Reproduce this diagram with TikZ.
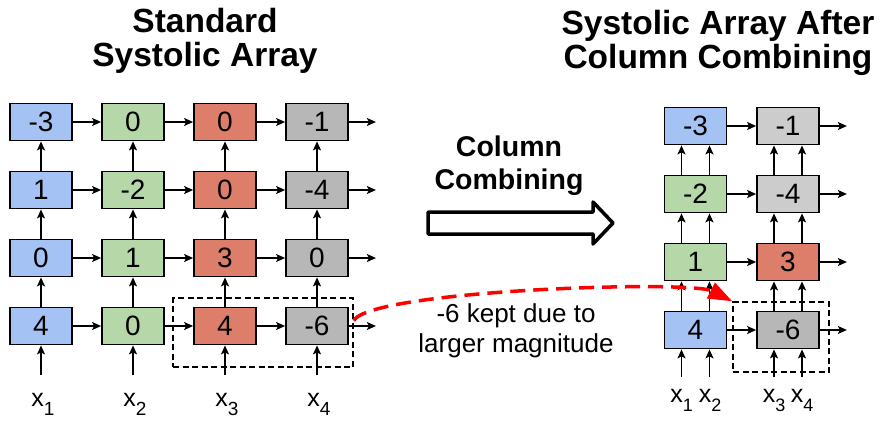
\documentclass[tikz,border=0pt]{standalone}
\usepackage{fontspec}
\setmainfont{Liberation Sans}
\usetikzlibrary{arrows.meta}

\definecolor{peblue}{HTML}{A4C2F4}
\definecolor{pegreen}{HTML}{B6D7A8}
\definecolor{pered}{HTML}{DD7E6B}
\definecolor{pegray}{HTML}{B7B7B7}
\definecolor{pelight}{HTML}{CCCCCC}

\newcommand{\xsub}[2]{x\raisebox{-9pt}{\fontsize{#2}{#2}\selectfont #1}}

\tikzset{
  pe/.style={draw, line width=1.8pt, minimum width=62pt, minimum height=37pt, inner sep=0pt, font=\fontsize{28}{28}\selectfont},
  flow/.style={-{Stealth[length=9pt,width=8pt,inset=2pt]}, line width=1.4pt},
  grpbox/.style={draw, dash pattern=on 6pt off 3.5pt, line width=1.4pt, inner sep=0pt},
  lbl/.style={anchor=base, inner sep=0pt, font=\fontsize{25}{25}\selectfont},
  title/.style={align=center, font=\fontsize{33.5}{33.5}\selectfont\bfseries}
}

\begin{document}
\begin{tikzpicture}[x=1pt,y=-1pt]
  \useasboundingbox (0,0) rectangle (885,420);

  % standard array
  \node[pe, fill=peblue]  (s11) at (41,122) {-3};
  \node[pe, fill=pegreen] (s21) at (133,122) {0};
  \node[pe, fill=pered]   (s31) at (225,122) {0};
  \node[pe, fill=pegray]  (s41) at (317,122) {-1};
  \node[pe, fill=peblue]  (s12) at (41,190) {1};
  \node[pe, fill=pegreen] (s22) at (133,190) {-2};
  \node[pe, fill=pered]   (s32) at (225,190) {0};
  \node[pe, fill=pegray]  (s42) at (317,190) {-4};
  \node[pe, fill=peblue]  (s13) at (41,258) {0};
  \node[pe, fill=pegreen] (s23) at (133,258) {1};
  \node[pe, fill=pered]   (s33) at (225,258) {3};
  \node[pe, fill=pegray]  (s43) at (317,258) {0};
  \node[pe, fill=peblue]  (s14) at (41,326) {4};
  \node[pe, fill=pegreen] (s24) at (133,326) {0};
  \node[pe, fill=pered]   (s34) at (225,326) {4};
  \node[pe, fill=pegray]  (s44) at (317,326) {-6};

  \foreach \r in {1,...,4} {
    \foreach \a/\b in {1/2,2/3,3/4}
      \draw[flow] (s\a\r) -- (s\b\r);
    \coordinate (sout\r) at ([xshift=27pt]s4\r.east);
    \draw[flow] (s4\r.east) -- (sout\r);
  }
  \foreach \c/\x in {1/41,2/133,3/225,4/317} {
    \foreach \a/\b in {4/3,3/2,2/1}
      \draw[flow] (s\c\a) -- (s\c\b);
    \coordinate (sin\c) at (\x,375);
    \draw[flow] (sin\c) -- (s\c4);
    \node[lbl] (sx\c) at (\x+2,406) {\xsub{\c}{19}};
  }

  \node[grpbox, minimum width=180pt, minimum height=69pt] (lgrp) at (263,332.5) {};

  \node[title] (ltitle) at (205,41) {Standard\\Systolic Array};

  % combined array
  \node[pe, fill=peblue]  (c11) at (695.5,126) {-3};
  \node[pe, fill=pelight] (c21) at (788,126) {-1};
  \node[pe, fill=pegreen] (c12) at (695.5,194) {-2};
  \node[pe, fill=pelight] (c22) at (788,194) {-4};
  \node[pe, fill=pegreen] (c13) at (695.5,262) {1};
  \node[pe, fill=pered]   (c23) at (788,262) {3};
  \node[pe, fill=peblue]  (c14) at (695.5,330) {4};
  \node[pe, fill=pegray]  (c24) at (788,330) {-6};

  \foreach \r in {1,...,4} {
    \draw[flow] (c1\r) -- (c2\r);
    \coordinate (cout\r) at ([xshift=27pt]c2\r.east);
    \draw[flow] (c2\r.east) -- (cout\r);
  }
  \foreach \c in {1,2}
    \foreach \k/\d in {a/-14,b/14} {
      \foreach \a/\b in {4/3,3/2,2/1}
        \draw[flow] ([xshift=\d pt]c\c\a.north) -- ([xshift=\d pt]c\c\b.south);
      \coordinate (cin\c\k) at ([xshift=\d pt,yshift=-28pt]c\c4.south);
      \draw[flow] (cin\c\k) -- ([xshift=\d pt]c\c4.south);
    }

  \node[lbl] (cx1) at (681.5,402) {\xsub{1}{18}};
  \node[lbl] (cx2) at (710,402) {\xsub{2}{18}};
  \node[lbl] (cx3) at (774,402) {\xsub{3}{18}};
  \node[lbl] (cx4) at (802,402) {\xsub{4}{18}};

  \node[grpbox, minimum width=96pt, minimum height=70pt] (rgrp) at (781,337) {};

  \node[title] (rtitle) at (718,43) {Systolic Array After\\Column Combining};

  % middle
  \node[align=center, font=\fontsize{28.5}{33}\selectfont\bfseries] (cc) at (509,166) {Column\\Combining};
  \draw[line width=3.5pt, line join=round, fill=white] (428,212) -- (593,212) -- (593,202) -- (613,223)
    -- (593,244) -- (593,234) -- (428,234) -- cycle;

  \node[align=center, font=\fontsize{26}{30}\selectfont] (note) at (516,331) {-6 kept due to\\larger magnitude};

  \draw[red, line width=3.5pt, dash pattern=on 15pt off 8pt, -{Triangle[length=24pt,width=17pt]}]
    ([yshift=12pt]lgrp.east) .. controls (372,290) and (690,280) .. (rgrp.north west);
\end{tikzpicture}
\end{document}
